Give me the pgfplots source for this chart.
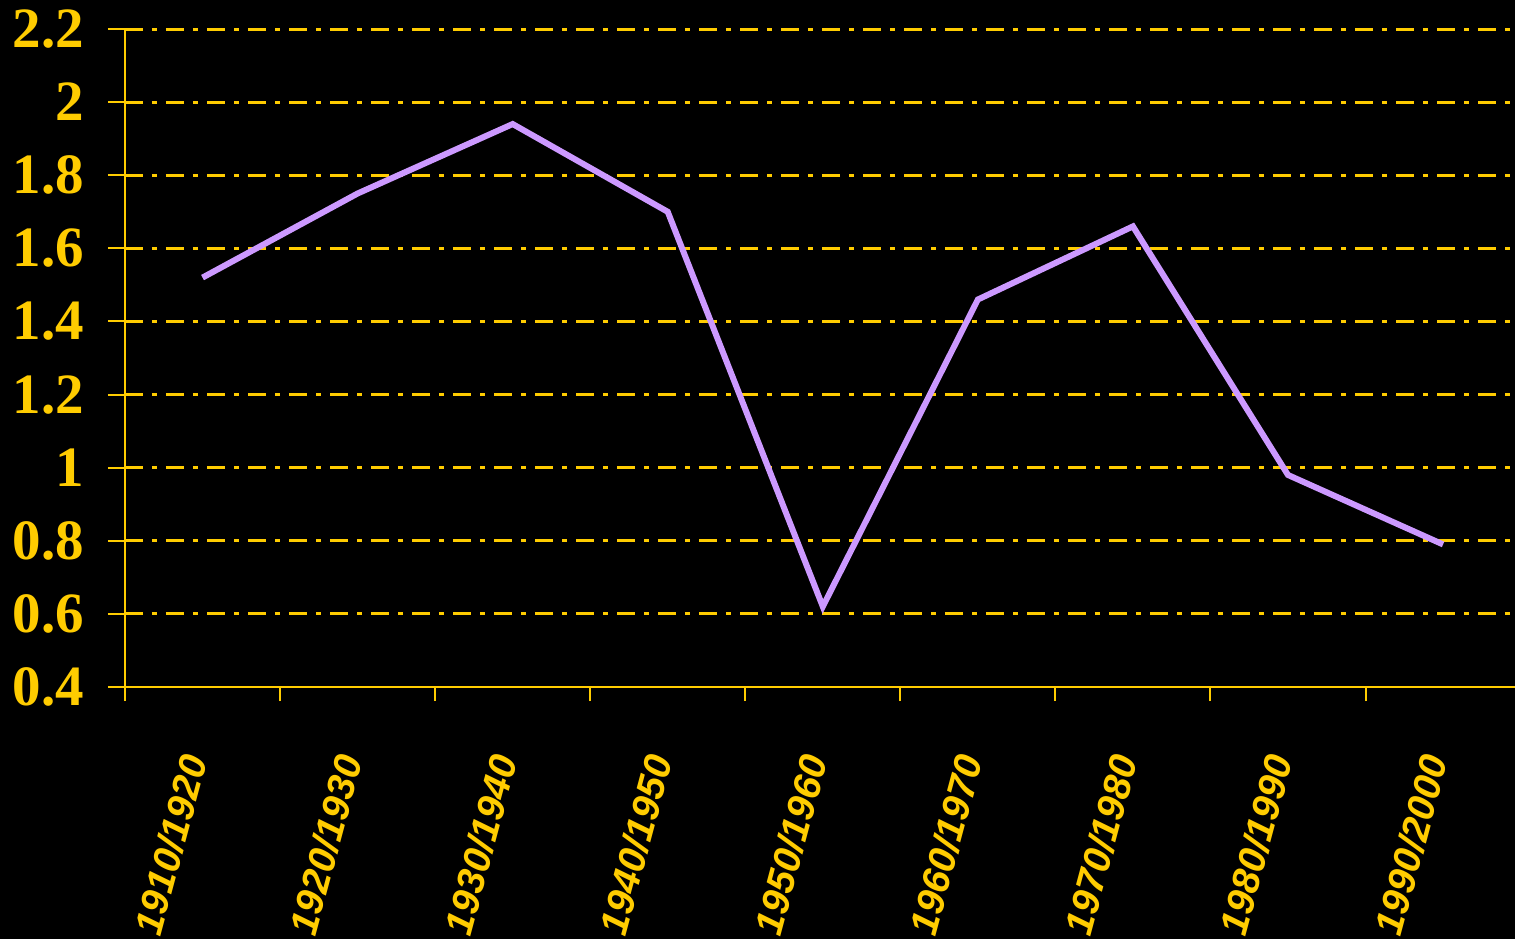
\documentclass[border=0pt]{standalone}
\usepackage{pgfplots}
\pgfplotsset{compat=1.18}
\usepackage{fontspec}
\setmainfont{Liberation Serif}
\newfontfamily\xlab{Liberation Sans}
\definecolor{gold}{HTML}{FFCC00}
\definecolor{lav}{HTML}{CC99FF}
\begin{document}
\begin{tikzpicture}
\path[use as bounding box, fill=black] (-62.5pt,-126pt) rectangle (695pt,343.5pt);
\begin{axis}[
  name=ax, at={(0,0)}, anchor=south west,
  scale only axis, width=695pt, height=329pt,
  xmin=0, xmax=8.964, ymin=0.4, ymax=2.2,
  axis lines*=left,
  axis line style={gold, line width=1pt},
  ytick={0.6,0.8,1.0,1.2,1.4,1.6,1.8,2.0,2.2},
  yticklabels={0.6,0.8,1,1.2,1.4,1.6,1.8,2,2.2},
  extra y ticks={0.4},
  extra y tick labels={0.4},
  extra y tick style={grid=none},
  tick align=outside,
  major tick length=8.5pt,
  minor tick length=7pt,
  xtick={0.5,1.5,2.5,3.5,4.5,5.5,6.5,7.5,8.5},
  xticklabels={1910/1920,1920/1930,1930/1940,1940/1950,1950/1960,1960/1970,1970/1980,1980/1990,1990/2000},
  minor xtick={0,1,2,3,4,5,6,7,8},
  major x tick style={draw=none},
  minor x tick style={gold, line width=1pt},
  ytick style={gold, line width=1pt},
  ymajorgrids,
  major grid style={gold, line width=1.5pt, dash pattern=on 9pt off 4.5pt on 2.5pt off 4.5pt},
  yticklabel style={font=\fontsize{28.5}{28.5}\selectfont\bfseries, text=gold, xshift=-8.5pt},
  xticklabel style={font=\xlab\fontsize{19.5}{19.5}\selectfont\bfseries\itshape, text=gold, xshift=-3pt, yshift=-22.5pt, rotate=75, anchor=east},
]
\addplot[lav, line width=3pt] coordinates {
(0.5,1.52) (1.5,1.75) (2.5,1.94) (3.5,1.70) (4.5,0.62) (5.5,1.46) (6.5,1.66) (7.5,0.98) (8.5,0.79)
};
\end{axis}
\end{tikzpicture}
\end{document}
